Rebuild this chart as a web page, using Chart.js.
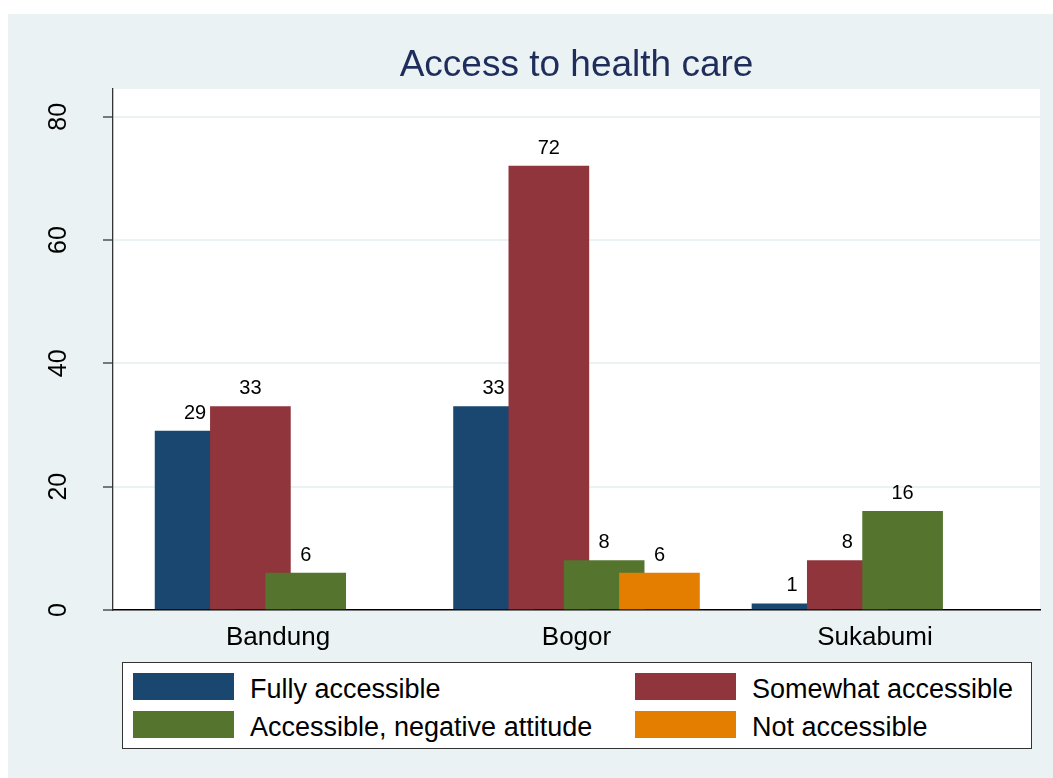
<!DOCTYPE html>
<html>
<head>
<meta charset="utf-8">
<title>Access to health care</title>
<script src="https://cdn.jsdelivr.net/npm/chart.js@4.4.1/dist/chart.umd.min.js"></script>
<style>
  html, body { margin: 0; padding: 0; background: #fff; }
  #wrap { position: relative; width: 1053px; height: 778px; }
  #legend {
    position: absolute; left: 122px; top: 662px; width: 908px; height: 85px;
    background: #fff; border: 1px solid #333;
    font-family: 'Liberation Sans', Arial, sans-serif; font-size: 27px; color: #000;
  }
  .swatch { position: absolute; width: 101px; height: 27px; }
  .label { position: absolute; line-height: 27px; white-space: nowrap; }
</style>
</head>
<body>
<div id="wrap">
  <canvas id="barChart" width="1053" height="778"></canvas>
  <div id="legend"></div>
</div>
<script>
// data
const cities = ['Bandung', 'Bogor', 'Sukabumi'];
const seriesNames = ['Fully accessible', 'Somewhat accessible', 'Accessible, negative attitude', 'Not accessible'];
const fullyAccessible = [29, 33, 1];
const somewhatAccessible = [33, 72, 8];
const negativeAttitude = [6, 8, 16];
const notAccessible = [null, 6, null];
const yTicks = [0, 20, 40, 60, 80];

const seriesValues = [fullyAccessible, somewhatAccessible, negativeAttitude, notAccessible];
const colors = ['#1a476f', '#90353b', '#55752f', '#e37e00'];

const FONT = "'Liberation Sans', Arial, sans-serif";
const slotStep = 0.1853; // bar spacing inside a group, in category units

// bars overlap like Stata's: each bar sits half under the next one
const datasets = seriesValues.map((vals, s) => ({
  label: seriesNames[s],
  data: vals.map((v, i) => ({ x: i + (s - 1.5) * slotStep, y: v })),
  backgroundColor: colors[s],
  borderWidth: 0,
  barThickness: 80,
  grouped: false,
  order: seriesValues.length - s
}));

const stataLook = {
  id: 'stataLook',
  beforeDraw(chart) {
    const { ctx, chartArea: a } = chart;
    ctx.save();
    ctx.fillStyle = '#fff';
    ctx.fillRect(0, 0, chart.width, chart.height);
    ctx.fillStyle = '#eaf2f3';
    ctx.fillRect(8, 14, chart.width - 8, chart.height - 14);
    ctx.fillStyle = '#fff';
    ctx.fillRect(a.left, a.top, a.right - a.left, a.bottom - a.top);
    ctx.restore();
  },
  afterDatasetsDraw(chart) {
    const ctx = chart.ctx;
    ctx.save();
    ctx.font = '20px ' + FONT;
    ctx.fillStyle = '#000';
    ctx.textAlign = 'center';
    ctx.textBaseline = 'alphabetic';
    seriesValues.forEach((vals, s) => {
      const meta = chart.getDatasetMeta(s);
      meta.data.forEach((bar, i) => {
        if (vals[i] == null) return;
        ctx.fillText(String(vals[i]), bar.x, bar.y - 12.5);
      });
    });
    ctx.restore();
  },
  afterDraw(chart) {
    const { ctx, chartArea: a } = chart;
    const yScale = chart.scales.y;
    ctx.save();
    // title
    ctx.font = '37px ' + FONT;
    ctx.fillStyle = '#1e2d5c';
    ctx.textAlign = 'center';
    ctx.textBaseline = 'alphabetic';
    ctx.fillText('Access to health care', (a.left + a.right) / 2, 76);
    // rotated y tick labels
    ctx.font = '25px ' + FONT;
    ctx.fillStyle = '#000';
    ctx.textBaseline = 'middle';
    yTicks.forEach(t => {
      ctx.save();
      ctx.translate(59, yScale.getPixelForValue(t));
      ctx.rotate(-Math.PI / 2);
      ctx.fillText(String(t), 0, 0);
      ctx.restore();
    });
    ctx.restore();
  }
};

new Chart(document.getElementById('barChart').getContext('2d'), {
  type: 'bar',
  data: { datasets },
  options: {
    responsive: false,
    animation: false,
    layout: { padding: { left: 8, top: 89, right: 13, bottom: 0 } },
    plugins: {
      legend: { display: false },
      tooltip: { enabled: false }
    },
    scales: {
      x: {
        type: 'linear',
        offset: false,
        min: -0.553,
        max: 2.553,
        afterBuildTicks: s => { s.ticks = cities.map((c, i) => ({ value: i })); },
        afterFit: s => { s.height = 168; },
        grid: { display: false, drawTicks: false, offset: false },
        border: { display: true, color: '#000', width: 1.5 },
        ticks: {
          padding: 12,
          autoSkip: false,
          maxRotation: 0,
          color: '#000',
          font: { family: FONT, size: 26 },
          callback: v => cities[v]
        }
      },
      y: {
        min: 0,
        max: 84.5,
        afterBuildTicks: s => { s.ticks = yTicks.map(v => ({ value: v })); },
        afterFit: s => { s.width = 105; },
        grid: {
          color: c => (c.tick && c.tick.value === 0 ? 'rgba(0,0,0,0)' : '#eaf2f3'),
          lineWidth: 2,
          drawTicks: true,
          tickLength: 10,
          tickColor: '#000',
          tickWidth: 1
        },
        border: { display: true, color: '#333', width: 1.3 },
        ticks: { display: false }
      }
    }
  },
  plugins: [stataLook]
});

// two-column legend in a box, as in the Stata graph
const legend = document.getElementById('legend');
seriesNames.forEach((name, s) => {
  const col = s % 2, row = Math.floor(s / 2);
  const left = col === 0 ? 10 : 512;
  const top = row === 0 ? 10 : 48;
  const sw = document.createElement('div');
  sw.className = 'swatch';
  sw.style.left = left + 'px';
  sw.style.top = top + 'px';
  sw.style.background = colors[s];
  const lb = document.createElement('div');
  lb.className = 'label';
  lb.style.left = (left + 117) + 'px';
  lb.style.top = (top + 2.5) + 'px';
  lb.textContent = name;
  legend.appendChild(sw);
  legend.appendChild(lb);
});
</script>
</body>
</html>
